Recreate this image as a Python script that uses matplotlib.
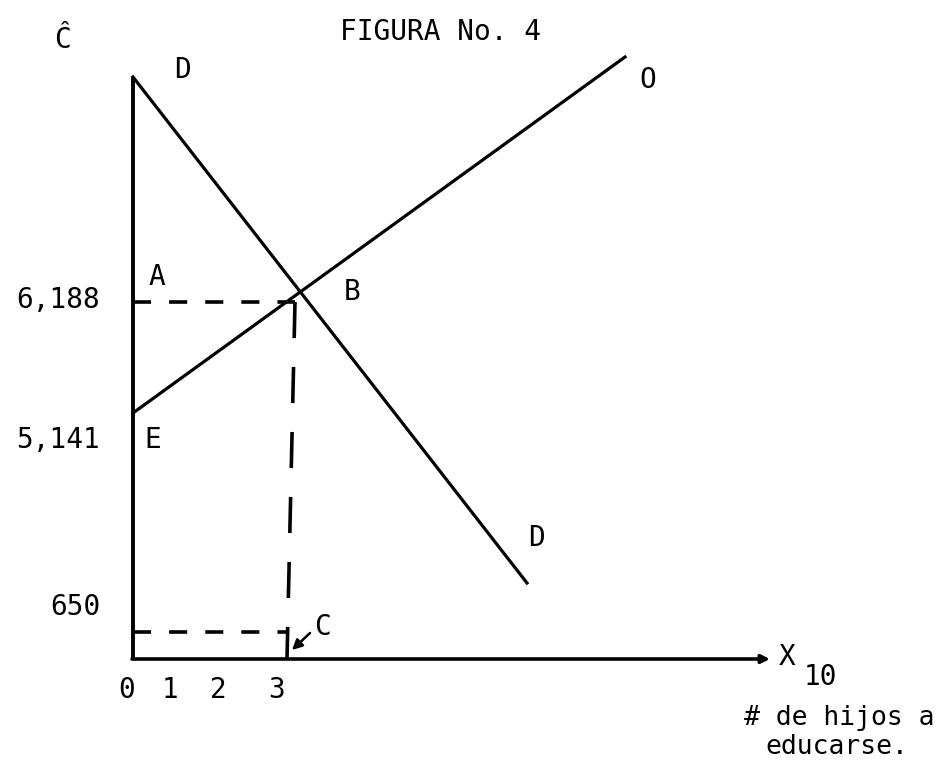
import matplotlib
matplotlib.use("Agg")
import matplotlib.pyplot as plt

# diagram units (schematic figure, not to scale)
demand_x = [0.0, 39.4]
demand_y = [58.2, 7.6]
offer_x = [0.0, 49.2]
offer_y = [24.6, 60.2]

eq_x_top = 16.2
eq_x_bottom = 15.4
eq_y = 35.7
low_y = 2.7
low_x_end = 15.5
xaxis_end = 63.7

ytick_labels = ["6,188", "5,141", "650"]
ytick_pos = [35.9, 21.9, 5.2]
xtick_labels = ["0", "1", "2", "3"]
xtick_pos = [-0.6, 3.7, 8.5, 14.4]

# point labels: text, x, y
point_labels = [
    ("D", 4.9, 58.9),
    ("O", 51.5, 57.9),
    ("A", 2.4, 38.2),
    ("B", 21.9, 36.7),
    ("E", 2.0, 21.9),
    ("D", 40.4, 12.1),
    ("C", 18.9, 3.2),
]

font = "DejaVu Sans Mono"
fs = 20

fig = plt.figure(figsize=(9.48, 7.62), dpi=100)
ax = fig.add_axes([0, 0, 1, 1])
ax.set_xlim(-13.3, 81.5)
ax.set_ylim(-10.3, 65.9)
ax.axis("off")

# axes of the diagram
ax.plot([0, 0], [0, demand_y[0]], color="black", lw=2.8, solid_capstyle="butt")
ax.annotate("", xy=(xaxis_end, 0), xytext=(-0.1, 0),
            arrowprops=dict(arrowstyle="-|>", color="black", lw=2.6,
                            mutation_scale=12, shrinkA=0, shrinkB=0))

# demand and offer lines
ax.plot(demand_x, demand_y, color="black", lw=2.3)
ax.plot(offer_x, offer_y, color="black", lw=2.3)

# dashed guides
ax.plot([0, eq_x_top], [eq_y, eq_y], color="black", lw=2.6, dashes=(5, 5))
ax.plot([eq_x_top, eq_x_bottom], [eq_y, 0], color="black", lw=2.6, dashes=(10, 8))
ax.plot([0, low_x_end], [low_y, low_y], color="black", lw=2.6, dashes=(5, 5))

# arrow to C
ax.annotate("", xy=(eq_x_bottom + 0.5, 0.9), xytext=(17.7, 2.6),
            arrowprops=dict(arrowstyle="-|>", color="black", lw=1.8,
                            mutation_scale=15, shrinkA=0, shrinkB=0))

for lab, y in zip(ytick_labels, ytick_pos):
    ax.text(-3.3, y, lab, ha="right", va="center", family=font, fontsize=fs)
for lab, x in zip(xtick_labels, xtick_pos):
    ax.text(x, -3.1, lab, ha="center", va="center", family=font, fontsize=fs)

for lab, x, y in point_labels:
    ax.text(x, y, lab, ha="center", va="center", family=font, fontsize=fs)

ax.text(-7.1, 61.9, "Ĉ", ha="center", va="center", family=font, fontsize=fs)
ax.text(30.8, 62.7, "FIGURA No. 4", ha="center", va="center", family=font, fontsize=fs)
ax.text(65.4, 0.2, "X", ha="center", va="center", family=font, fontsize=fs)
ax.text(68.7, -1.8, "10", ha="center", va="center", family=font, fontsize=fs)
ax.text(70.6, -5.9, "# de hijos a", ha="center", va="center", family=font, fontsize=19)
ax.text(70.4, -8.8, "educarse.", ha="center", va="center", family=font, fontsize=19)

fig.savefig("out.png", dpi=100, facecolor="white")
